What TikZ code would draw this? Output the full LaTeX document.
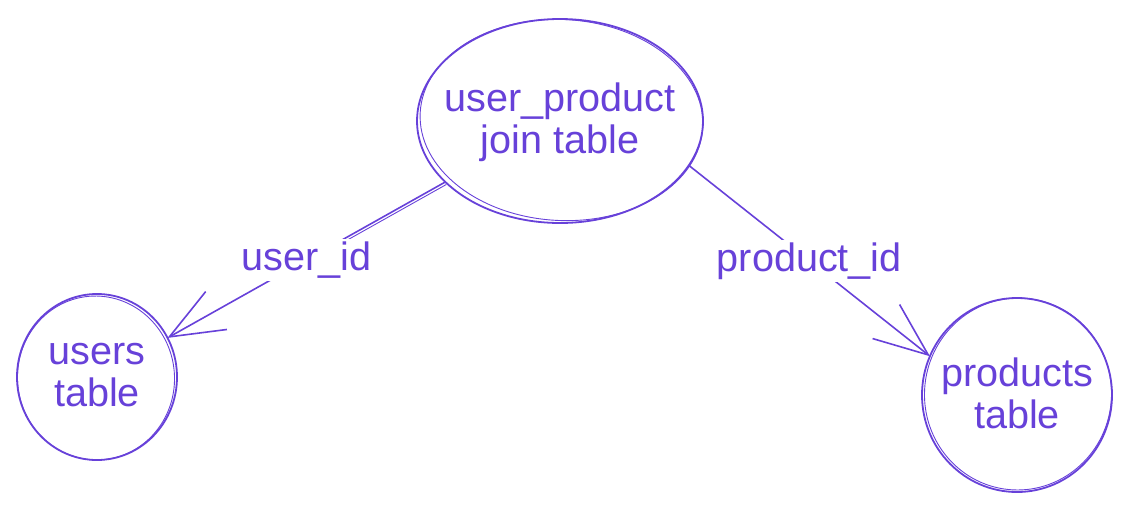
\documentclass[tikz,border=0pt]{standalone}
\usepackage{fontspec}
\setmainfont{Liberation Sans}
\usetikzlibrary{shapes.geometric,arrows.meta}
\definecolor{vio}{HTML}{6741D9}
\begin{document}
\begin{tikzpicture}[x=1pt,y=-1pt,
  tbl/.style={ellipse,draw=vio,line width=1.8pt,inner sep=0pt,outer sep=0pt},
  tbltext/.style={text=vio,align=center,inner sep=0pt,font=\fontsize{39.6}{42}\selectfont},
  lbl/.style={fill=white,text=vio,inner sep=2.5pt,font=\fontsize{39.6}{42}\selectfont},
  conn/.style={draw=vio,line width=1.6pt,-{Straight Barb[angle=44:58pt]}},
  sketch/.style={draw=vio,line width=0.9pt}]
\useasboundingbox (0,0) rectangle (1132,512);
\node[tbl,minimum width=286pt,minimum height=204pt] (top) at (560,121) {};
\node[tbl,minimum width=160pt,minimum height=166pt] (users) at (97,377) {};
\node[tbl,minimum width=190pt,minimum height=194pt] (products) at (1017,395) {};
\node[tbltext] (toptext) at ([yshift=-1pt]top.center) {user\_product\\join table};
\node[tbltext] (userstext) at ([yshift=2pt]users.center) {users\\table};
\node[tbltext] (productstext) at ([yshift=2pt]products.center) {products\\table};
% sketchy second strokes
\draw[sketch] ([shift={(1.5,-1)}]top.center) ellipse [x radius=141.5pt, y radius=100.5pt, rotate=-3];
\draw[sketch] ([shift={(-1,1)}]users.center) ellipse [x radius=78.5pt, y radius=82pt, rotate=5];
\draw[sketch] ([shift={(1,-1)}]products.center) ellipse [x radius=93.5pt, y radius=96pt, rotate=-6];
\draw[sketch,shorten >=195pt] ([shift={(1,2.5)}]top.208) -- ([shift={(1,2.5)}]users.29);
% connectors
\draw[conn] (top.208) -- node[lbl] (uid) {user\_id} (users.29);
\draw[conn] (top.-19) -- node[lbl] (pid) {product\_id} (products.156);
\end{tikzpicture}
\end{document}
